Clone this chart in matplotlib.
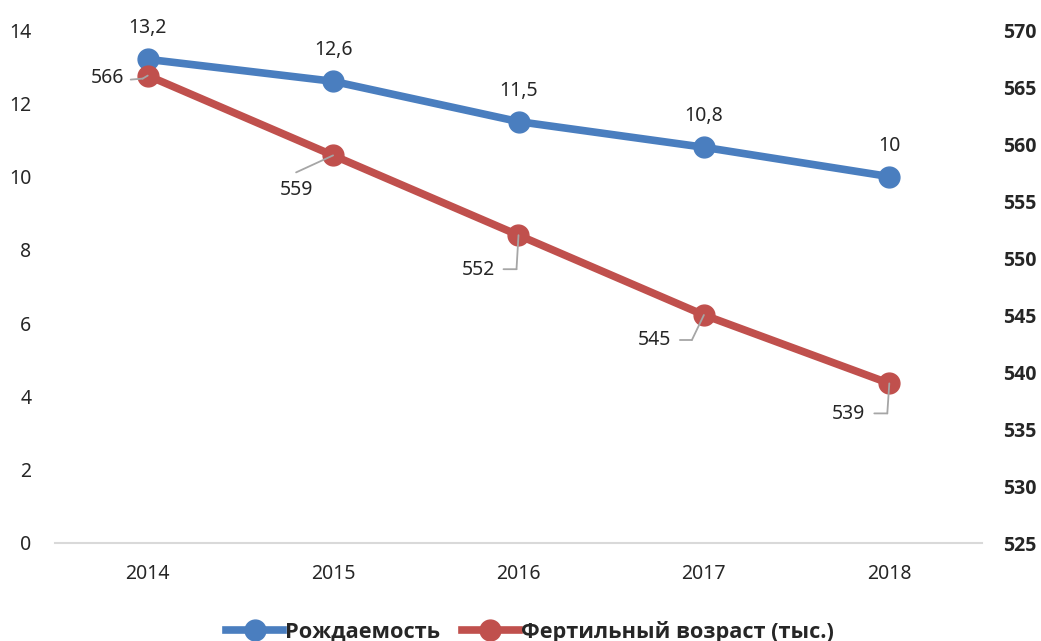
import matplotlib
matplotlib.use("Agg")
import matplotlib.pyplot as plt
import matplotlib.transforms as mtransforms
from matplotlib.lines import Line2D
from matplotlib import font_manager as fm

plt.rcParams['font.family'] = ['Noto Sans', 'DejaVu Sans']

years = ['2014', '2015', '2016', '2017', '2018']
birth_rate = [13.2, 12.6, 11.5, 10.8, 10.0]
birth_labels = ['13,2', '12,6', '11,5', '10,8', '10']
fertile = [566, 559, 552, 545, 539]
fertile_labels = ['566', '559', '552', '545', '539']
left_ticks = [0, 2, 4, 6, 8, 10, 12, 14]
right_ticks = [525, 530, 535, 540, 545, 550, 555, 560, 565, 570]
legend_labels = ['Рождаемость', 'Фертильный возраст (тыс.)']

BLUE = '#4A7EBF'
RED = '#C0504D'
GRAY = '#A6A6A6'
TXT = '#262626'

# pick a family with a real bold face
bold_family = 'DejaVu Sans'
for fam in ['Noto Sans', 'Open Sans', 'Roboto', 'Lato', 'Liberation Sans']:
    try:
        p = fm.findfont(fm.FontProperties(family=fam, weight='bold'), fallback_to_default=False)
        if 'bold' in p.lower():
            bold_family = fam
            break
    except Exception:
        pass
BOLD_TICK = fm.FontProperties(family=[bold_family, 'DejaVu Sans'], weight='bold', size=14)
BOLD_LEG = fm.FontProperties(family=[bold_family, 'DejaVu Sans'], weight='bold', size=15.7)

W, H = 1041, 641
fig = plt.figure(figsize=(W / 100, H / 100), dpi=100)
ax = fig.add_axes([55 / W, (H - 543) / H, (982 - 55) / W, (543 - 30) / H])
ax2 = ax.twinx()

x = list(range(len(years)))
ax.plot(x, birth_rate, color=BLUE, lw=5.5, marker='o', ms=15, zorder=3)
ax2.plot(x, fertile, color=RED, lw=5.5, marker='o', ms=15, zorder=3)

ax.set_xlim(-0.5, 4.5)
ax.set_ylim(0, 14)
ax2.set_ylim(525, 570)
ax.set_xticks(x)
ax.set_xticklabels(years)
ax.set_yticks(left_ticks)
ax.set_yticklabels([str(t) for t in left_ticks])
ax2.set_yticks(right_ticks)
ax2.set_yticklabels([str(t) for t in right_ticks], fontproperties=BOLD_TICK)

for a in (ax, ax2):
    for s in a.spines.values():
        s.set_visible(False)
ax.spines['bottom'].set_visible(True)
ax.spines['bottom'].set_color('#D9D9D9')
ax.spines['bottom'].set_linewidth(1.5)

ax.tick_params(axis='both', length=0, labelsize=14, labelcolor=TXT)
ax.tick_params(axis='y', pad=17)
ax.tick_params(axis='x', pad=15)
ax2.tick_params(axis='y', length=0, labelcolor=TXT, pad=15)

# blue labels above points
for xi, yi, lab in zip(x, birth_rate, birth_labels):
    ax.annotate(lab, xy=(xi, yi), xytext=(0, 31), textcoords='offset pixels',
                ha='center', va='center', fontsize=14, color=TXT)

# red labels with leader lines: (text offset, leader vertex offsets in pixels)
red_cfg = [
    ((-24, -2), [(-17, -4), (-5, -3), (0, 0)]),
    ((-20, -35), [(-37, -17), (0, 0)]),
    ((-23, -35), [(-15, -34), (-2, -34), (0, 0)]),
    ((-33, -25), [(-24, -25), (-12, -25), (0, 0)]),
    ((-24, -31), [(-15, -30), (-2, -30), (0, 0)]),
]
for xi, yi, lab, (toff, verts) in zip(x, fertile, fertile_labels, red_cfg):
    ax2.annotate(lab, xy=(xi, yi), xytext=toff, textcoords='offset pixels',
                 ha='right', va='center', fontsize=14, color=TXT)
    for a0, a1 in zip(verts[:-1], verts[1:]):
        base = mtransforms.offset_copy(ax2.transData, fig=fig,
                                       x=a1[0], y=a1[1], units='dots')
        ax2.annotate('', xy=(xi, yi), xycoords=base,
                     xytext=(a0[0] - a1[0], a0[1] - a1[1]),
                     textcoords='offset pixels',
                     arrowprops=dict(arrowstyle='-', color=GRAY, lw=1.3,
                                     shrinkA=0, shrinkB=0), zorder=4)

handles = [
    Line2D([], [], color=BLUE, lw=5.5, marker='o', ms=15),
    Line2D([], [], color=RED, lw=5.5, marker='o', ms=15),
]
leg = fig.legend(handles, legend_labels,
                 loc='center', bbox_to_anchor=(530 / W, 1 - 632 / H), ncol=2,
                 frameon=False, handlelength=2.6, handletextpad=0.1,
                 columnspacing=1.0, prop=BOLD_LEG)
for t in leg.get_texts():
    t.set_color(TXT)

fig.savefig('out.png', dpi=100)
